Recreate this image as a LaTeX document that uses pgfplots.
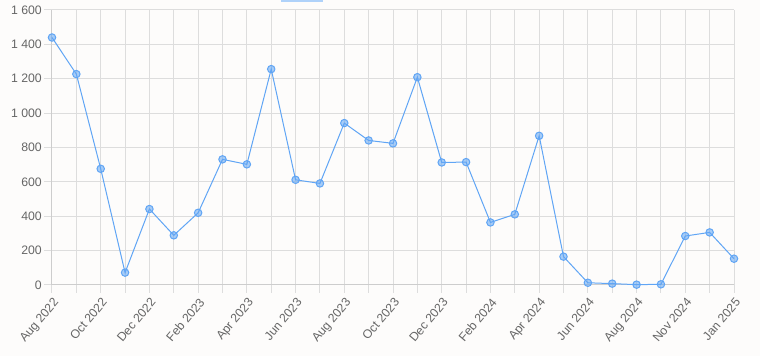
\documentclass[border=0pt]{standalone}
\usepackage{pgfplots}
\pgfplotsset{compat=1.18}
\usepackage{fontspec}
\setmainfont{Liberation Sans}
\usetikzlibrary{backgrounds}
\definecolor{lineblue}{RGB}{96,165,245}
\definecolor{gridc}{RGB}{221,221,221}
\definecolor{axisc}{RGB}{205,205,205}
\definecolor{labc}{RGB}{102,102,102}
\definecolor{bgc}{RGB}{253,252,251}
\begin{document}
\begin{tikzpicture}
\begin{axis}[
  scale only axis,
  width=511.5pt, height=206.25pt,
  xmin=0, xmax=28, ymin=0, ymax=1600,
  xtick={0,...,28},
  xticklabels={Aug 2022,,Oct 2022,,Dec 2022,,Feb 2023,,Apr 2023,,Jun 2023,,Aug 2023,,Oct 2023,,Dec 2023,,Feb 2024,,Apr 2024,,Jun 2024,,Aug 2024,,Nov 2024,,Jan 2025},
  ytick={0,200,...,1600},
  yticklabels={0,200,400,600,800,1 000,1 200,1 400,1 600},
  grid=major,
  major grid style={gridc, line width=0.75pt},
  axis line style={axisc, line width=0.75pt},
  tick align=outside,
  major tick length=6pt,
  tick style={gridc, line width=0.75pt},
  every tick label/.append style={font=\fontsize{9.2}{10}\selectfont, text=labc},
  xticklabel style={rotate=50, anchor=north east, inner sep=2pt},
  yticklabel style={inner sep=1.5pt},
  axis x line*=bottom, axis y line*=left,
  clip=false,
]
\coordinate (O) at (rel axis cs:0,0);
\addplot[color=lineblue, line width=0.75pt, mark=*, mark size=2.8pt,
  mark options={fill=lineblue, fill opacity=0.55, draw=lineblue, line width=0.75pt}]
  coordinates {
  (0,1440) (1,1227) (2,676) (3,72) (4,442) (5,289) (6,420) (7,731) (8,702)
  (9,1256) (10,612) (11,591) (12,942) (13,841) (14,824) (15,1209) (16,713)
  (17,715) (18,364) (19,411) (20,868) (21,165) (22,13) (23,8) (24,2) (25,4)
  (26,285) (27,306) (28,153)
  };
\end{axis}
\fill[lineblue!50] ([xshift=171.75pt,yshift=212.25pt]O) rectangle ([xshift=203.25pt,yshift=213.75pt]O);
\pgfresetboundingbox
\path[use as bounding box] ([xshift=-39pt,yshift=213.75pt]O) rectangle ([xshift=531pt,yshift=-53.25pt]O);
\begin{scope}[on background layer]
\fill[bgc] ([xshift=-39pt,yshift=213.75pt]O) rectangle ([xshift=531pt,yshift=-53.25pt]O);
\end{scope}
\end{tikzpicture}
\end{document}
